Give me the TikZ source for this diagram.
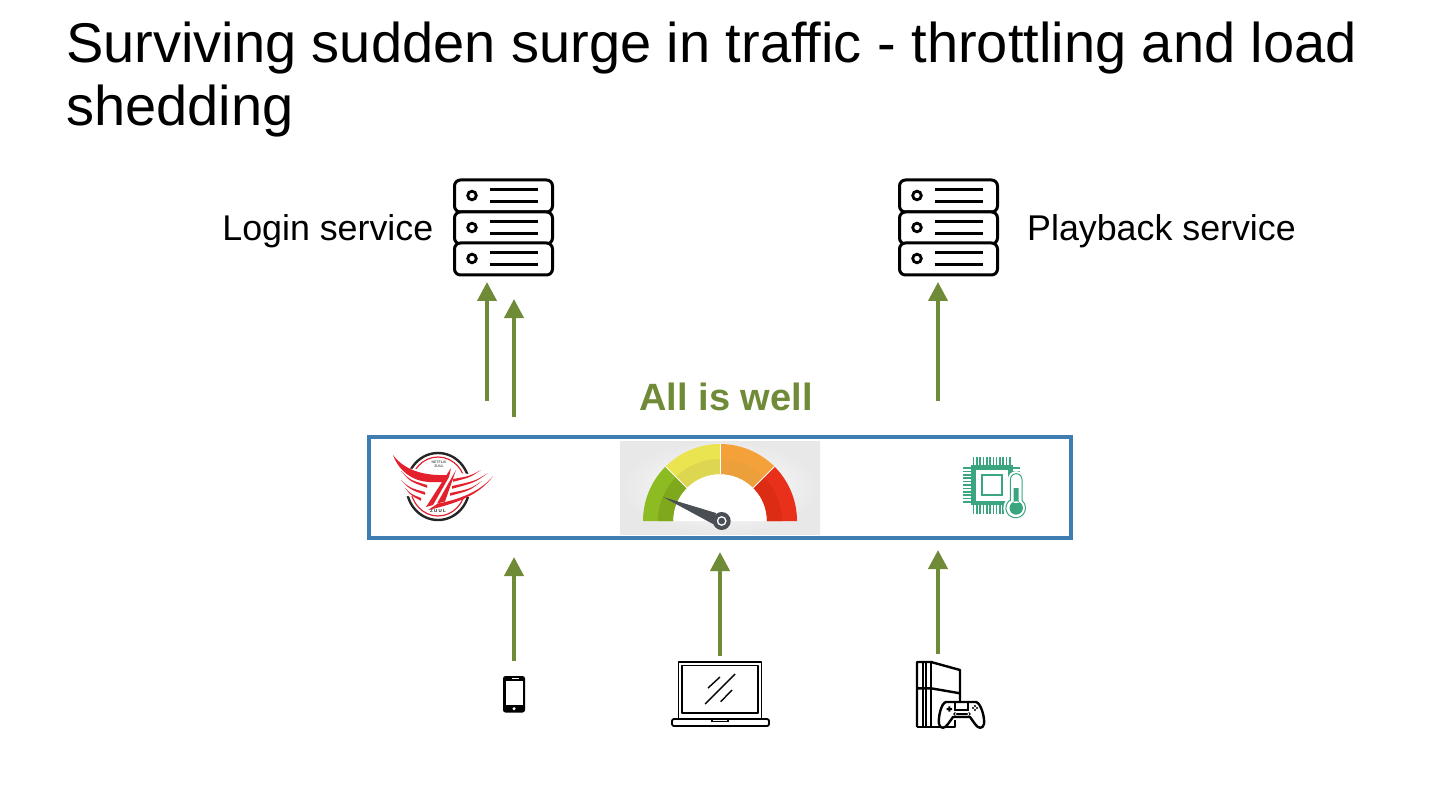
\documentclass[tikz,border=0pt]{standalone}
\usepackage{fontspec}
\setmainfont{Liberation Sans}
\usetikzlibrary{arrows.meta}
\definecolor{wellGreen}{HTML}{6F8B38}
\definecolor{boxBlue}{HTML}{3F7DB1}
\definecolor{zuulRed}{HTML}{E3202C}
\definecolor{chipGreen}{HTML}{3BA57F}
\definecolor{hubGray}{HTML}{4A4E55}
\definecolor{gaugeGreen}{HTML}{8DBB22}
\definecolor{gaugeGreenIn}{HTML}{7FA81C}
\definecolor{gaugeYellow}{HTML}{E9E44F}
\definecolor{gaugeYellowIn}{HTML}{DDD650}
\definecolor{gaugeOrange}{HTML}{F5A13A}
\definecolor{gaugeOrangeIn}{HTML}{EBA03C}
\definecolor{gaugeRed}{HTML}{E8301A}
\definecolor{gaugeRedIn}{HTML}{DD2C14}
% angles are the ones seen on the page, the y axis points down
\newcommand{\gaugeband}[5]{\fill[#5, shift={(720,521)}] (-#1:#4) arc[start angle=-#1,end angle=-#2,radius=#4] -- (-#2:#3) arc[start angle=-#2,end angle=-#1,radius=#3] -- cycle;}
\tikzset{
  flow/.style={draw=wellGreen, line width=4pt, -{Triangle[length=19pt,width=19pt]}},
  label/.style={font=\fontsize{35.8}{36}\selectfont, inner sep=0pt},
  iconline/.style={draw=black, line width=2.4pt, line join=round},
  laptopline/.style={draw=black, line width=1.8pt, line join=round},
  serverstack/.pic={
    \foreach \y in {0,32,63}{
      \draw[black, line width=3pt, rounded corners=6pt, fill=white] (0,\y) rectangle (98,\y+32);
      \draw[black, line width=2.8pt] (17.5,\y+15.5) circle (4.3);
      \draw[black, line width=2.8pt] (35,\y+9.5) -- (83,\y+9.5) (35,\y+21.5) -- (83,\y+21.5);
    }
  }
}
\begin{document}
\begin{tikzpicture}[x=1pt,y=-1pt]
  \useasboundingbox (0,0) rectangle (1440,810);
  % title
  \node[anchor=north west, inner sep=0pt, align=left, font=\fontsize{56}{63}\selectfont] (title) at (66,22) {Surviving sudden surge in traffic - throttling and load\\shedding};

  % services
  \pic (login) at (454.5,180) {serverstack};
  \pic (playback) at (899.5,180) {serverstack};
  \node[label, anchor=east] (loginlabel) at (433.5,231) {Login service};
  \node[label, anchor=west] (playbacklabel) at (1027,231) {Playback service};

  \node[anchor=center, inner sep=0pt, text=wellGreen, font=\fontsize{38}{38}\selectfont\bfseries] (status) at (726,397) {All is well};

  % gateway box
  \node[draw=boxBlue, line width=3.4pt, outer sep=0pt, minimum width=702pt, minimum height=101pt, inner sep=0pt, anchor=north west] (gateway) at (369,437) {};

  % gauge
  \shade[inner color=white, outer color=black!9] (620,441) rectangle (820,534);
  \fill[white, shift={(720,521)}] (-180:47) arc[start angle=-180,end angle=0,radius=47] -- cycle;
  \gaugeband{180}{135}{47}{77}{gaugeGreen}
  \gaugeband{135}{90}{47}{77}{gaugeYellow}
  \gaugeband{90}{45}{47}{77}{gaugeOrange}
  \gaugeband{45}{0}{47}{77}{gaugeRed}
  \gaugeband{180}{135}{47}{62}{gaugeGreenIn}
  \gaugeband{135}{90}{47}{62}{gaugeYellowIn}
  \gaugeband{90}{45}{47}{62}{gaugeOrangeIn}
  \gaugeband{45}{0}{47}{62}{gaugeRedIn}
  \foreach \a in {135,90,45}{
    \draw[white, line width=1pt, shift={(720,521)}] (-\a:47) -- (-\a:77);
  }
  \fill[hubGray] (663,497) -- (716,513) -- (713,524) -- cycle;
  \fill[hubGray] (721.7,521) circle (9);
  \draw[white, line width=1.3pt] (721.7,521) circle (4.2);

  % zuul logo
  \draw[black!85, line width=2.4pt] (438,486.5) ellipse (31.5 and 33.5);
  \draw[zuulRed, line width=1.2pt] (438,486.5) ellipse (27.5 and 29.5);
  \fill[white] (392,467) -- (492,476) -- (492,497) -- (392,496) -- cycle;
  \fill[zuulRed] (393,455) .. controls (405,471) and (425,476) .. (448,475) -- (444,482) -- (429,482) .. controls (412,481) and (399,471) .. (393,455) -- cycle;
  \fill[zuulRed] (451,468) -- (426,507) -- (433,505) -- (449,477) -- cycle;
  \fill[zuulRed] (456,470) -- (437,503.5) -- (445,501.5) -- cycle;
  \fill[zuulRed] (493,476) .. controls (480,495) and (455,504) .. (428,510) -- (438,503.5) .. controls (462,499) and (482,490) .. (493,476) -- cycle;
  \foreach \ax/\ay/\cx/\cy/\bx/\by in {401/471/410/480/427/485, 401/480/410/488/425/492, 405/488/411/494/421/498,
    481/470/470/476/453/479, 488/473/475/481/452/486, 482/481/470/489/450/493}{
    \fill[zuulRed] (\ax,\ay) .. controls (\cx,\cy) .. (\bx,\by) -- (\bx,\by+2.8) .. controls (\cx,\cy+1.5) .. cycle;
  }
  \node[inner sep=0pt, text=black!65, align=center, font=\fontsize{3.5}{4}\selectfont\bfseries] (logotop) at (439,464.5) {NETFLIX\\ZUUL};
  \node[inner sep=0pt, text=black!85, font=\fontsize{4.5}{5}\selectfont\bfseries] (logoname) at (438,511) {Z U U L};

  % chip
  \foreach \i in {0,...,11}{
    \draw[chipGreen, line width=1.6pt] (973.5+\i*3.3,457) -- (973.5+\i*3.3,514);
  }
  \foreach \i in {0,...,10}{
    \draw[chipGreen, line width=1.6pt] (963,468+\i*3.4) -- (1020,468+\i*3.4);
  }
  \fill[chipGreen] (971,465) rectangle (1012.5,505);
  \fill[white] (975.5,469.5) rectangle (1008,500.5);
  \draw[chipGreen, line width=2.7pt] (982,475) rectangle (1002,495);
  \path[preaction={draw=white, line width=5pt}, draw=chipGreen, fill=white, line width=1pt] (1010.4,500.5) -- (1010.4,479.5) arc[start angle=180,end angle=360,radius=5.8] -- (1022,500.5) arc[start angle=-50,end angle=230,radius=9.8] -- cycle;
  \fill[chipGreen] (1016.2,508) circle (6.7) (1013.7,488) rectangle (1018.7,503);

  % phone
  \fill[black, rounded corners=2.5pt] (503,676) rectangle (525,712.5);
  \fill[white] (505.7,681) rectangle (522.5,705);
  \fill[white] (514,708.7) circle (1.7);
  \fill[white] (511.5,677.7) rectangle (519,678.7);

  % laptop
  \draw[laptopline] (678.5,719) -- (678.5,662) -- (761.5,662) -- (761.5,719);
  \draw[laptopline] (682,713) -- (682,665.5) -- (758,665.5) -- (758,713) -- cycle;
  \draw[laptopline, rounded corners=2pt] (672,719) rectangle (769,726);
  \draw[black, line width=1.4pt] (712,719) -- (712,721.5) -- (728,721.5) -- (728,719);
  \draw[black, line width=1.4pt] (705,704) -- (735,674) (708,688) -- (720,677) (720.7,701.7) -- (732,690);

  % console
  \draw[iconline] (917,727) -- (917,662) -- (931,662) -- (960,670) -- (960,703);
  \draw[iconline] (923,662) -- (923,727) (926,662) -- (926,727) (931,662) -- (931,727);
  \draw[iconline] (917,688.3) -- (931,688.3) -- (960,693.3);
  \draw[iconline] (917,727) -- (940,727);
  \draw[iconline] (955,720) -- (955,727) -- (946,727);
  \draw[iconline, fill=white] (946,702) -- (976,702) .. controls (981,703) and (985,718) .. (984,724) .. controls (983,729) and (978,729) .. (975,724) -- (970,717) -- (953,717) -- (948,724) .. controls (945,729) and (940,729) .. (939,724) .. controls (938,718) and (941,703) .. (946,702) -- cycle;
  \draw[black, line width=1.6pt] (955,702) rectangle (968,710);
  \fill[black] (946.7,708) rectangle (952,710) (948.4,706.3) rectangle (950.4,711.7) (975,706) circle (1.1) (975,710) circle (1.1) (973,708) circle (1.1) (977,708) circle (1.1);
  \fill[black] (955,714) circle (1.8) (969,714) circle (1.8) (955,713) rectangle (969,715);

  % flows
  \coordinate (loginA) at (487,401); \coordinate (loginAin) at (487,282);
  \coordinate (loginB) at (514,417); \coordinate (loginBin) at (514,299);
  \coordinate (playA) at (938,401); \coordinate (playAin) at (938,282);
  \coordinate (phone) at (514,661); \coordinate (phonein) at (514,557);
  \coordinate (laptop) at (720,656); \coordinate (laptopin) at (720,552);
  \coordinate (console) at (938,654); \coordinate (consolein) at (938,550);
  \foreach \a/\b in {loginA/loginAin,loginB/loginBin,playA/playAin,phone/phonein,laptop/laptopin,console/consolein}{
    \draw[flow] (\a) -- (\b);
  }
\end{tikzpicture}
\end{document}
